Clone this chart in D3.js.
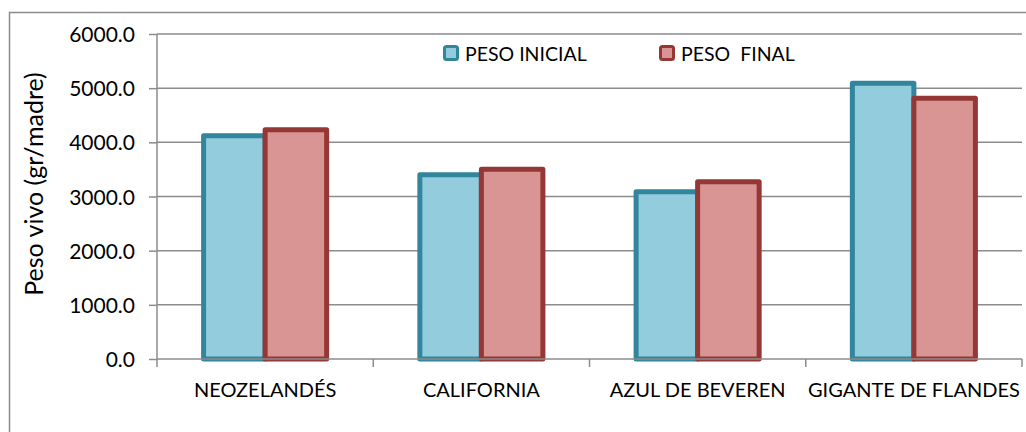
<!DOCTYPE html>
<html>
<head>
<meta charset="utf-8">
<script src="https://cdn.jsdelivr.net/npm/d3@7"></script>
<style>
  html, body { margin: 0; padding: 0; background: #fff; }
  svg text { font-family: Lato, "Open Sans", sans-serif; fill: #000; }
</style>
</head>
<body>
<div id="chart-area"></div>
<script>
// bar chart: peso vivo inicial vs final por raza

const categories = ["NEOZELANDÉS", "CALIFORNIA", "AZUL DE BEVEREN", "GIGANTE DE FLANDES"];
const seriesNames = ["PESO INICIAL", "PESO  FINAL"];
const pesoInicial = [4120, 3400, 3087, 5092];
const pesoFinal = [4231, 3504, 3271, 4815];
const yTicks = [0, 1000, 2000, 3000, 4000, 5000, 6000];

const fills = ["#93cddd", "#d99594"];
const strokes = ["#31859c", "#953735"];

const W = 1026, H = 432;
const margin = { top: 34, right: 4, bottom: 73, left: 157 };
const width = W - margin.left - margin.right;
const height = H - margin.top - margin.bottom;

const svg = d3.select("#chart-area")
  .append("svg")
  .attr("width", W)
  .attr("height", H);

// outer chart frame (only top and left visible)
svg.append("path")
  .attr("d", `M9.5,${H} V12.5 H${W}`)
  .attr("fill", "none")
  .attr("stroke", "#8c8c8c")
  .attr("stroke-width", 1.5);

const g = svg.append("g")
  .attr("transform", `translate(${margin.left},${margin.top})`);

const yScale = d3.scaleLinear().domain([0, 6000]).range([height, 0]);

const x0 = d3.scaleBand()
  .domain(categories)
  .range([0, width])
  .paddingInner(0.431)
  .paddingOuter(0.2155);

const x1 = d3.scaleBand()
  .domain([0, 1])
  .range([0, x0.bandwidth()]);

// gridlines
g.append("g")
  .selectAll("line")
  .data(yTicks.filter(d => d > 0))
  .join("line")
  .attr("x1", 0)
  .attr("x2", width)
  .attr("y1", d => yScale(d))
  .attr("y2", d => yScale(d))
  .attr("stroke", "#8c8c8c")
  .attr("stroke-width", 1.5);

// y axis
const yAxis = d3.axisLeft(yScale)
  .tickValues(yTicks)
  .tickSize(8)
  .tickPadding(14)
  .tickFormat(d3.format(".1f"));
const yAxisGroup = g.append("g").call(yAxis);
yAxisGroup.selectAll("line, path").attr("stroke", "#8c8c8c").attr("stroke-width", 1.5);
yAxisGroup.select(".domain").attr("d", `M0,0 V${height}`);
yAxisGroup.selectAll("text")
  .style("font-family", "Lato, sans-serif")
  .style("font-size", "21px")
  .attr("dy", "0.36em");

// bars
const data = categories.map((c, i) => ({ cat: c, vals: [pesoInicial[i], pesoFinal[i]] }));

const groups = g.append("g")
  .selectAll("g")
  .data(data)
  .join("g")
  .attr("transform", d => `translate(${x0(d.cat)},0)`);

groups.selectAll("rect")
  .data(d => d.vals.map((v, k) => ({ v, k })))
  .join("rect")
  .attr("x", d => x1(d.k))
  .attr("width", x1.bandwidth())
  .attr("y", d => yScale(d.v))
  .attr("height", d => height - yScale(d.v))
  .attr("fill", d => fills[d.k])
  .attr("stroke", d => strokes[d.k])
  .attr("stroke-width", 5)
  .attr("stroke-linejoin", "round");

// x axis (drawn after bars so the line sits on top)
const xAxisGroup = g.append("g").attr("transform", `translate(0,${height})`);
xAxisGroup.append("line")
  .attr("x1", 0).attr("x2", width)
  .attr("stroke", "#8c8c8c").attr("stroke-width", 1.5);
const boundaries = d3.range(categories.length + 1).map(i => i * x0.step());
xAxisGroup.selectAll(".xtick")
  .data(boundaries)
  .join("line")
  .attr("class", "xtick")
  .attr("x1", d => d).attr("x2", d => d)
  .attr("y1", 0).attr("y2", 8)
  .attr("stroke", "#8c8c8c").attr("stroke-width", 1.5);
xAxisGroup.selectAll(".xlabel")
  .data(categories)
  .join("text")
  .attr("class", "xlabel")
  .attr("x", d => x0(d) + x0.bandwidth() / 2)
  .attr("y", 38)
  .attr("text-anchor", "middle")
  .style("font-size", "20px")
  .text(d => d);

// y label
svg.append("text")
  .attr("transform", "translate(43,184) rotate(-90)")
  .attr("text-anchor", "middle")
  .style("font-size", "25px")
  .text("Peso vivo (gr/madre)");

// legend
const legendX = [443, 659];
const legend = svg.append("g");
seriesNames.forEach((name, k) => {
  legend.append("rect")
    .attr("x", legendX[k] + 1.5)
    .attr("y", 46.5)
    .attr("width", 13)
    .attr("height", 13)
    .attr("rx", 2)
    .attr("fill", fills[k])
    .attr("stroke", strokes[k])
    .attr("stroke-width", 3);
  legend.append("text")
    .attr("x", legendX[k] + 22)
    .attr("y", 61)
    .style("font-size", "19.5px")
    .style("white-space", "pre")
    .attr("xml:space", "preserve")
    .text(name);
});
</script>
</body>
</html>
